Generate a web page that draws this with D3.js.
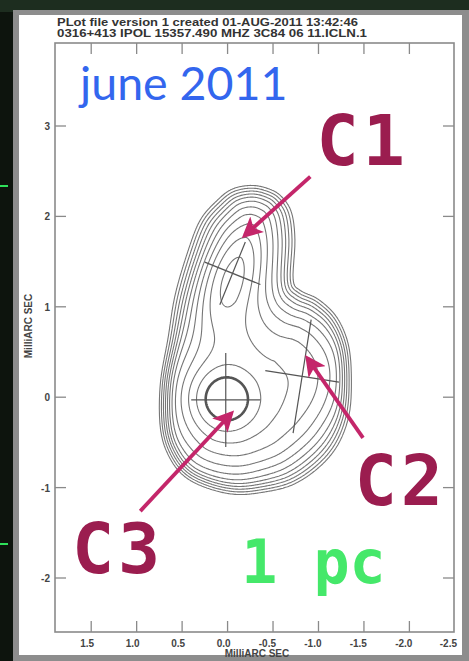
<!DOCTYPE html>
<html><head><meta charset="utf-8">
<script src="https://cdn.jsdelivr.net/npm/d3@7"></script>
<style>html,body{margin:0;padding:0;background:#000;}svg{display:block}</style>
</head><body>
<svg id="chart" width="469" height="661"></svg>
<script>
// ---------------- data ----------------
const headerLines = ["PLot file version 1  created 01-AUG-2011 13:42:46",
                     "0316+413  IPOL  15357.490 MHZ  3C84 06 11.ICLN.1"];
const axisTitle = "MilliARC SEC";
const xTicks = [1.5, 1.0, 0.5, 0.0, -0.5, -1.0, -1.5, -2.0, -2.5];
const xTickLabels = ["1.5", "1.0", "0.5", "0.0", "-0.5", "-1.0", "-1.5", "-2.0", "-2.5"];
const yTicks = [3, 2, 1, 0, -1, -2];
const yTickLabels = ["3", "2", "1", "0", "-1", "-2"];

// outer (lowest) contour of the source (mas)
const outlineX = [-0.25, -0.05, 0.11, 0.30, 0.44, 0.58, 0.65, 0.72, 0.72, 0.63, 0.47, 0.22, -0.08, -0.38,
                  -0.71, -1.00, -1.21, -1.33, -1.35, -1.32, -1.20, -1.00, -0.80, -0.72, -0.74, -0.70, -0.58, -0.43];
const outlineY = [2.34, 2.30, 2.18, 1.96, 1.60, 1.11, 0.63, 0.14, -0.36, -0.66, -0.87, -1.00, -1.07, -1.05,
                  -0.97, -0.78, -0.53, -0.20, 0.19, 0.58, 0.88, 1.08, 1.18, 1.30, 1.74, 2.05, 2.23, 2.31];
// compact brightness components (mas, fraction of peak)
const compName = ["C3 core", "C3 halo", "C1", "jet", "C2"];
const compX    = [0.02, 0.00, -0.05, -0.02, -0.84];
const compY    = [-0.02, -0.04, 1.31, 0.80, 0.22];
const compAmp  = [0.78, 0.16, 0.26, 0.06, 0.05];
const compMaj  = [0.17, 0.34, 0.30, 0.50, 0.28];
const compMin  = [0.17, 0.32, 0.13, 0.20, 0.24];
const compPA   = [0, 0, -18, -12, -10];
// extended emission: number of contour steps gained inside the outline, and its depth scale (mas)
const envelopeSteps = 9;
const envelopeDepth = 0.28;
const contourLevels = [0.00025, 0.0005, 0.001, 0.002, 0.004, 0.008, 0.016, 0.032, 0.064, 0.128, 0.256, 0.512];

// fitted component markers (crosses)
const markerName = ["C3", "C1", "C2"];
const markerX    = [0.02, -0.055, -0.82];
const markerY    = [-0.03, 1.37, 0.23];
const markerMaj  = [1.04, 0.75, 1.27];
const markerMin  = [0.76, 0.66, 0.82];
const markerPA   = [0, -22, -9];

// annotations (mas)
const arrowFromX = [-0.91, -1.49, 0.96];
const arrowFromY = [2.44, -0.45, -1.26];
const arrowToX   = [-0.19, -0.88, -0.04];
const arrowToY   = [1.79, 0.43, -0.18];
const noteText = ["C1", "C2", "C3"];
const noteX = [-1.0, -1.42, 1.69];
const noteY = [2.57, -1.19, -1.95];
const scaleText = "1 pc";
const titleText = "june 2011";

// ---------------- drawing ----------------
const W = 469, H = 661;
const svg = d3.select("#chart");
const frame = {l: 55, r: 454, t: 43, b: 632};
const x = d3.scaleLinear().domain([1.5, -2.0]).range([91.2, 409.4]);
const y = d3.scaleLinear().domain([3, -2]).range([126, 578]);

// paper & border
svg.append("rect").attr("width", W).attr("height", H).attr("fill", "#0d140d");
svg.append("rect").attr("x", 0).attr("y", 0).attr("width", W).attr("height", 12).attr("fill", "#1d2d1f");
svg.append("rect").attr("x", 13).attr("y", 10).attr("width", W - 13).attr("height", H - 10).attr("fill", "#8d8d8d");
svg.append("rect").attr("x", 19).attr("y", 15).attr("width", 443).attr("height", 640).attr("fill", "#ffffff");
svg.append("line").attr("x1", 0).attr("x2", 8).attr("y1", 186).attr("y2", 186).attr("stroke", "#2ee05a").attr("stroke-width", 2);
svg.append("line").attr("x1", 0).attr("x2", 8).attr("y1", 544).attr("y2", 544).attr("stroke", "#2ee05a").attr("stroke-width", 2);

// header
svg.selectAll("text.hdr").data(headerLines).join("text").attr("class", "hdr")
  .attr("x", 57).attr("y", (d, i) => 26 + i * 11)
  .attr("font-family", "Liberation Sans, Arial, sans-serif").attr("font-weight", "bold")
  .attr("font-size", 10).attr("fill", "#333")
  .attr("textLength", (d, i) => i ? 310 : 301).attr("lengthAdjust", "spacingAndGlyphs")
  .text(d => d);

// ---- brightness model on a grid ----
const outline = [];
const N = outlineX.length;
for (let i = 0; i < N; i++) {
  const p0 = [outlineX[(i - 1 + N) % N], outlineY[(i - 1 + N) % N]];
  const p1 = [outlineX[i], outlineY[i]];
  const p2 = [outlineX[(i + 1) % N], outlineY[(i + 1) % N]];
  const p3 = [outlineX[(i + 2) % N], outlineY[(i + 2) % N]];
  for (let k = 0; k < 6; k++) {
    const t = k / 6, t2 = t * t, t3 = t2 * t;
    const f = (a, b, c, d) => 0.5 * (2 * b + (-a + c) * t + (2 * a - 5 * b + 4 * c - d) * t2 + (-a + 3 * b - 3 * c + d) * t3);
    outline.push([f(p0[0], p1[0], p2[0], p3[0]), f(p0[1], p1[1], p2[1], p3[1])]);
  }
}
function signedDist(px, py) {
  let best = 1e9;
  const M = outline.length;
  for (let i = 0; i < M; i++) {
    const a = outline[i], b = outline[(i + 1) % M];
    const ex = b[0] - a[0], ey = b[1] - a[1];
    let t = ((px - a[0]) * ex + (py - a[1]) * ey) / (ex * ex + ey * ey);
    t = Math.max(0, Math.min(1, t));
    const dx = px - a[0] - t * ex, dy = py - a[1] - t * ey;
    const d = dx * dx + dy * dy;
    if (d < best) best = d;
  }
  best = Math.sqrt(best);
  return d3.polygonContains(outline, [px, py]) ? best : -best;
}
const x0 = 1.0, x1 = -1.7, y0 = 2.6, y1 = -1.4, step = 0.01;
const nx = Math.round((x0 - x1) / step) + 1, ny = Math.round((y0 - y1) / step) + 1;
const values = new Float64Array(nx * ny);
const comps = compName.map((n, i) => {
  const t = compPA[i] * Math.PI / 180;
  return {x: compX[i], y: compY[i], a: compAmp[i], maj: compMaj[i], min: compMin[i], s: Math.sin(t), c: Math.cos(t)};
});
const E0 = contourLevels[0], A = envelopeSteps * Math.LN2;
for (let j = 0; j < ny; j++) {
  const yy = y0 - j * step;
  for (let i = 0; i < nx; i++) {
    const xx = x0 - i * step;
    const d = signedDist(xx, yy);
    const env = d >= 0 ? E0 * Math.exp(A * (1 - Math.exp(-d / envelopeDepth))) : E0 * Math.exp(A * d / envelopeDepth);
    let g = 0;
    for (const p of comps) {
      const dx = xx - p.x, dy = yy - p.y;
      const u = dx * p.s + dy * p.c;
      const w = dx * p.c - dy * p.s;
      g += p.a * Math.exp(-(u * u / (2 * p.maj * p.maj) + w * w / (2 * p.min * p.min)));
    }
    const mask = 1 / (1 + Math.exp(-(d - 0.12) / 0.03));
    values[j * nx + i] = env + g * mask;
  }
}
const contours = d3.contours().size([nx, ny]).thresholds(contourLevels)(values);
const proj = d3.geoTransform({
  point: function (gx, gy) {
    this.stream.point(x(x0 - (gx - 0.5) * step), y(y0 - (gy - 0.5) * step));
  }
});
const path = d3.geoPath(proj);
const plot = svg.append("g");
plot.selectAll("path").data(contours).join("path")
  .attr("d", path).attr("fill", "none")
  .attr("stroke", (d, i) => i === contourLevels.length - 1 ? "#555" : "#767676")
  .attr("stroke-width", (d, i) => i === contourLevels.length - 1 ? 2.6 : 1.1);

// markers
markerName.forEach((n, i) => {
  const t = markerPA[i] * Math.PI / 180;
  const arms = [[markerMaj[i] / 2, t], [markerMin[i] / 2, t + Math.PI / 2]];
  arms.forEach(([h, a]) => {
    plot.append("line")
      .attr("x1", x(markerX[i] + h * Math.sin(a))).attr("y1", y(markerY[i] + h * Math.cos(a)))
      .attr("x2", x(markerX[i] - h * Math.sin(a))).attr("y2", y(markerY[i] - h * Math.cos(a)))
      .attr("stroke", "#555").attr("stroke-width", 1.2);
  });
});

// frame and ticks
const ax = svg.append("g").attr("stroke", "#8a8a8a").attr("fill", "none");
ax.append("rect").attr("x", frame.l).attr("y", frame.t).attr("width", frame.r - frame.l).attr("height", frame.b - frame.t).attr("stroke-width", 1.6);
const tl = 11;
xTicks.forEach(v => {
  if (x(v) > frame.r - 2) return;
  ax.append("line").attr("x1", x(v)).attr("x2", x(v)).attr("y1", frame.b).attr("y2", frame.b - tl).attr("stroke-width", 1.3);
  ax.append("line").attr("x1", x(v)).attr("x2", x(v)).attr("y1", frame.t).attr("y2", frame.t + tl).attr("stroke-width", 1.3);
});
yTicks.forEach(v => {
  ax.append("line").attr("y1", y(v)).attr("y2", y(v)).attr("x1", frame.l).attr("x2", frame.l + tl).attr("stroke-width", 1.3);
  ax.append("line").attr("y1", y(v)).attr("y2", y(v)).attr("x1", frame.r).attr("x2", frame.r - tl).attr("stroke-width", 1.3);
});
const lab = svg.append("g").attr("font-family", "Liberation Sans, Arial, sans-serif").attr("font-weight", "bold")
  .attr("font-size", 10).attr("fill", "#444");
xTicks.forEach((v, i) => {
  lab.append("text").attr("x", Math.min(x(v) + 3, frame.r + 3)).attr("y", 647).attr("text-anchor", "end").text(xTickLabels[i]);
});
yTicks.forEach((v, i) => {
  lab.append("text").attr("x", 50).attr("y", y(v) + 4).attr("text-anchor", "end").text(yTickLabels[i]);
});
lab.append("text").attr("x", 257).attr("y", 657).attr("text-anchor", "middle").text(axisTitle);
lab.append("text").attr("transform", "translate(32,326) rotate(-90)").attr("text-anchor", "middle").text(axisTitle);

// title
svg.append("text").attr("x", x(1.6) - 2).attr("y", y(3.29)).attr("font-family", "Lato, 'Open Sans', sans-serif")
  .attr("font-size", 46.5).attr("fill", "#3366ee").text(titleText);

// arrows
const ann = svg.append("g");
const defs = svg.append("defs");
defs.append("marker").attr("id", "ah").attr("viewBox", "0 0 10 10").attr("refX", 8).attr("refY", 5)
  .attr("markerWidth", 5.5).attr("markerHeight", 5.5).attr("orient", "auto").attr("markerUnits", "strokeWidth")
  .append("path").attr("d", "M0,0 L10,5 L0,10 L2.5,5 Z").attr("fill", "#c4266a");
arrowFromX.forEach((v, i) => {
  ann.append("line").attr("x1", x(v)).attr("y1", y(arrowFromY[i])).attr("x2", x(arrowToX[i])).attr("y2", y(arrowToY[i]))
    .attr("stroke", "#c4266a").attr("stroke-width", 3.8).attr("marker-end", "url(#ah)");
});
noteText.forEach((t, i) => {
  ann.append("text").attr("x", x(noteX[i]) - 2).attr("y", y(noteY[i]))
    .attr("font-family", "DejaVu Sans Mono, monospace").attr("font-weight", "bold").attr("font-size", 70)
    .attr("letter-spacing", 4).attr("fill", "#9b1d4f").text(t);
});
ann.append("text").attr("x", x(-0.15)).attr("y", y(-2.06))
  .attr("font-family", "DejaVu Sans Mono, monospace").attr("font-weight", "bold").attr("font-size", 60)
  .attr("fill", "#45e86a").text(scaleText);
</script>
</body></html>
